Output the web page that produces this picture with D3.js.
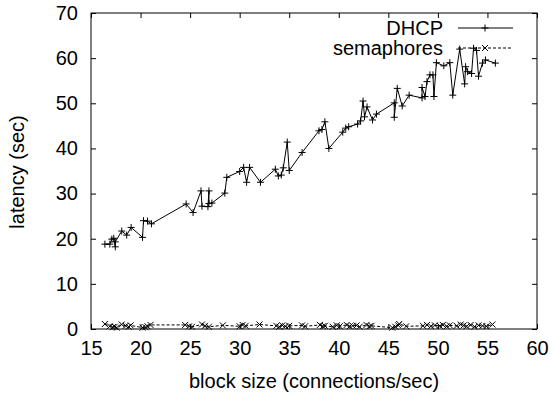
<!DOCTYPE html>
<html>
<head>
<meta charset="utf-8">
<script src="https://cdn.jsdelivr.net/npm/d3@7"></script>
<style>
  body { margin: 0; background: #fff; }
  text { font-family: "Liberation Sans", Arial, sans-serif; }
</style>
</head>
<body>
<div id="viz"></div>
<script>
// DHCP latency vs block size
const dhcpX = [16.4, 16.9, 17.1, 17.3, 17.45, 17.45, 18.1, 18.6, 19.05, 20.2, 20.3, 20.7, 21.1,
  24.6, 25.3, 26.1, 26.2, 26.8, 26.9, 26.9, 27.2, 28.5, 28.7, 30.0, 30.4, 30.7, 31.0, 32.1,
  33.6, 33.9, 34.2, 34.4, 34.8, 35.0, 36.3, 38.0, 38.3, 38.6, 39.0, 40.4, 40.7, 41.0, 41.9,
  42.2, 42.45, 42.6, 42.85, 43.4, 43.8, 45.6, 45.6, 45.9, 46.4, 47.1, 48.4, 48.4, 48.7, 48.9,
  49.2, 49.5, 49.6, 49.85, 50.6, 51.2, 51.5, 52.2, 52.7, 52.8, 53.0, 53.4, 53.6, 53.9, 54.1,
  54.5, 54.8, 55.8];
const dhcpY = [18.8, 18.8, 19.9, 20.1, 18.2, 19.3, 21.7, 20.8, 22.5, 20.3, 24.0, 23.9, 23.3,
  27.7, 25.8, 30.6, 27.2, 27.1, 30.6, 27.8, 27.9, 30.1, 33.6, 34.9, 35.8, 32.5, 35.8, 32.5,
  35.4, 33.9, 34.1, 35.7, 41.4, 35.1, 39.1, 43.9, 44.2, 45.9, 40.0, 43.6, 44.5, 44.8, 45.4,
  46.1, 50.5, 47.0, 49.2, 46.3, 47.6, 50.1, 46.9, 53.3, 49.4, 51.8, 51.2, 53.5, 51.5, 54.8,
  56.3, 56.3, 51.5, 59.0, 58.3, 59.0, 51.8, 62.0, 54.3, 58.1, 57.0, 56.6, 62.2, 61.7, 56.0,
  58.9, 59.6, 58.9];

// semaphores latency vs block size
const semX = [16.4, 16.9, 17.2, 17.4, 17.6, 18.1, 18.5, 18.8, 19.0, 20.2, 20.5, 20.7, 21.0,
  24.5, 24.9, 25.2, 26.2, 26.5, 26.9, 28.3, 30.0, 30.3, 30.6, 32.0, 33.7, 34.0, 34.3, 34.6,
  35.0, 36.3, 36.6, 38.1, 38.4, 38.6, 39.4, 39.8, 40.1, 40.8, 41.1, 41.4, 41.8, 42.1, 42.8,
  43.1, 43.3, 45.4, 45.7, 46.0, 46.1, 46.8, 48.5, 48.9, 49.3, 49.7, 50.2, 50.5, 50.9, 51.2,
  51.9, 52.3, 52.6, 52.9, 53.3, 53.7, 54.1, 54.5, 54.9, 55.5];
const semY = [1.1, 0.6, 0.4, 0.5, 0.3, 1.0, 0.7, 0.5, 0.8, 0.3, 0.4, 0.6, 0.9,
  0.9, 0.6, 0.5, 1.0, 0.7, 0.5, 0.8, 0.6, 0.9, 0.7, 1.0, 0.7, 0.5, 0.8, 0.6,
  0.7, 0.8, 0.6, 0.9, 0.6, 0.7, 0.5, 0.8, 0.6, 0.9, 0.6, 0.7, 0.8, 0.5, 0.9,
  0.6, 0.7, 0.3, 0.5, 0.8, 1.1, 0.6, 0.7, 0.9, 0.6, 0.8, 0.7, 0.9, 0.6, 0.8,
  0.7, 1.0, 0.8, 0.6, 0.9, 0.5, 0.8, 0.7, 0.6, 1.0];

const xTicks = [15, 20, 25, 30, 35, 40, 45, 50, 55, 60];
const yTicks = [0, 10, 20, 30, 40, 50, 60, 70];
const seriesNames = ["DHCP", "semaphores"];

let margin = { top: 13, right: 16, bottom: 66, left: 91 };
let width = 553 - margin.left - margin.right;
let height = 395 - margin.top - margin.bottom;

let svg = d3.select("#viz").append("svg")
  .attr("width", 553)
  .attr("height", 395)
  .append("g")
  .attr("transform", `translate(${margin.left},${margin.top})`);

let xScale = d3.scaleLinear().domain([15, 60]).range([0, width]);
let yScale = d3.scaleLinear().domain([0, 70]).range([height, 0]);

let dhcp = dhcpX.map((x, i) => ({ x: x, y: dhcpY[i] }));
let sem = semX.map((x, i) => ({ x: x, y: semY[i] }));

// ticks pointing inward on all four sides
let tickLen = 5;
svg.append("g")
  .attr("transform", `translate(0,${height})`)
  .call(d3.axisBottom(xScale).tickValues(xTicks).tickSize(-tickLen).tickPadding(12).tickFormat(d3.format("d")))
  .call(g => g.select(".domain").remove())
  .selectAll("text").style("font-size", "20px").attr("fill", "#000");

svg.append("g")
  .call(d3.axisTop(xScale).tickValues(xTicks).tickSize(-tickLen).tickFormat(""))
  .call(g => g.select(".domain").remove());

svg.append("g")
  .call(d3.axisLeft(yScale).tickValues(yTicks).tickSize(-tickLen).tickPadding(13).tickFormat(d3.format("d")))
  .call(g => g.select(".domain").remove())
  .selectAll("text").style("font-size", "20px").attr("fill", "#000");

svg.append("g")
  .attr("transform", `translate(${width},0)`)
  .call(d3.axisRight(yScale).tickValues(yTicks).tickSize(-tickLen).tickFormat(""))
  .call(g => g.select(".domain").remove());

svg.append("rect")
  .attr("x", 0).attr("y", 0)
  .attr("width", width).attr("height", height)
  .attr("fill", "none")
  .attr("stroke", "#000")
  .attr("stroke-width", 1);

let line = d3.line()
  .x(d => xScale(d.x))
  .y(d => yScale(d.y));

// semaphores: dashed with x markers
svg.append("path")
  .datum(sem)
  .attr("fill", "none")
  .attr("stroke", "#000")
  .attr("stroke-width", 1)
  .attr("stroke-dasharray", "3,2")
  .attr("d", line);

let ms = 3;
function crossMark(sel) {
  sel.append("path")
    .attr("d", `M${-ms},${-ms}L${ms},${ms}M${-ms},${ms}L${ms},${-ms}`)
    .attr("stroke", "#000").attr("stroke-width", 1).attr("fill", "none");
}
function plusMark(sel) {
  sel.append("path")
    .attr("d", `M${-ms - 0.5},0H${ms + 0.5}M0,${-ms - 0.5}V${ms + 0.5}`)
    .attr("stroke", "#000").attr("stroke-width", 1).attr("fill", "none");
}

svg.append("g")
  .selectAll("g")
  .data(sem)
  .enter().append("g")
  .attr("transform", d => `translate(${xScale(d.x)},${yScale(d.y)})`)
  .call(crossMark);

// DHCP: solid with + markers
svg.append("path")
  .datum(dhcp)
  .attr("fill", "none")
  .attr("stroke", "#000")
  .attr("stroke-width", 1)
  .attr("d", line);

svg.append("g")
  .selectAll("g")
  .data(dhcp)
  .enter().append("g")
  .attr("transform", d => `translate(${xScale(d.x)},${yScale(d.y)})`)
  .call(plusMark);

// legend, top right
let legend = svg.append("g").attr("transform", `translate(${width - 79},15)`);
seriesNames.forEach((name, i) => {
  let row = legend.append("g").attr("transform", `translate(0,${i * 20})`);
  row.append("text")
    .attr("x", -15).attr("y", 0)
    .attr("dy", "0.35em")
    .style("text-anchor", "end")
    .style("font-size", "20px")
    .text(name);
  row.append("line")
    .attr("x1", 0).attr("x2", 55)
    .attr("y1", 0).attr("y2", 0)
    .attr("stroke", "#000")
    .attr("stroke-width", 1)
    .attr("stroke-dasharray", i === 1 ? "3,2" : null);
  row.append("g").attr("transform", "translate(27,0)").call(i === 0 ? plusMark : crossMark);
});

// axis titles
svg.append("text")
  .attr("x", (xScale(15) + xScale(60)) / 2)
  .attr("y", height + 59)
  .style("text-anchor", "middle")
  .style("font-size", "20px")
  .text("block size (connections/sec)");

svg.append("text")
  .attr("transform", "rotate(-90)")
  .attr("x", -(height / 2) - 1)
  .attr("y", -margin.left + 24)
  .style("text-anchor", "middle")
  .style("font-size", "20px")
  .text("latency (sec)");
</script>
</body>
</html>
